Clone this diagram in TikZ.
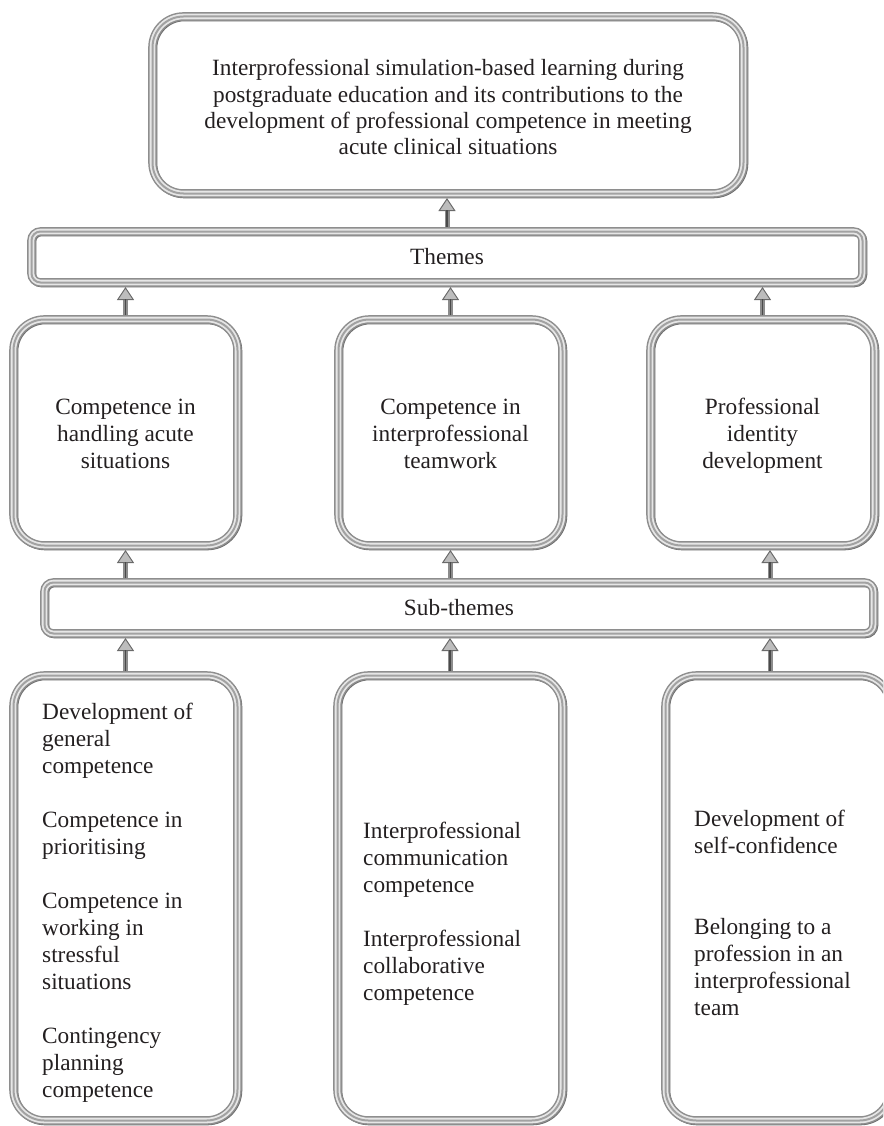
\documentclass[tikz,border=0pt]{standalone}
\usepackage{fontspec}
\setmainfont{Liberation Serif}
\usetikzlibrary{arrows.meta}
\definecolor{bdS}{HTML}{6A6A6A}
\definecolor{bdA}{HTML}{8E8E8E}
\definecolor{bdB}{HTML}{E6E6E6}
\definecolor{bdC}{HTML}{A2A2A2}
\definecolor{txt}{HTML}{231F20}
\definecolor{arA}{HTML}{8C8C8C}
\definecolor{arB}{HTML}{4A4A4A}
\definecolor{arF}{HTML}{BDBDBD}
\definecolor{arD}{HTML}{6A6A6A}
\tikzset{
  bevel/.style={rectangle, rounded corners=#1, inner sep=0pt, outer sep=4.5pt,
    preaction={draw=bdS, line width=8pt, transform canvas={shift={(0.8pt,-0.8pt)}}},
    preaction={draw=bdA, line width=8.6pt},
    preaction={draw=bdB, line width=5.6pt},
    draw=bdC, line width=2pt, text=txt, align=center,
    font=\fontsize{23.3}{27}\selectfont},
  ctxt/.style={inner sep=0pt, align=center, text=txt,
    font=\fontsize{23.3}{27}\selectfont},
  btxt/.style={anchor=north west, inner sep=0pt, align=left, text=txt,
    font=\fontsize{23.3}{27}\selectfont},
  shaft/.style={draw=arA, line width=5pt,
    -{Triangle[width=17pt,length=13pt,line width=1pt,color=arD,fill=arF]}},
  core/.style={draw=arB, line width=1.6pt, shorten >=12pt}
}
\newcommand\upconn[2]{\draw[shaft] #1 -- #2; \draw[core] #1 -- #2;}
\begin{document}
\begin{tikzpicture}[x=1pt,y=-1pt]
\useasboundingbox (0,0) rectangle (883,1126);
\begin{scope}
\clip (0,0) rectangle (883,1126);
% top box
\node[bevel=31pt, minimum width=591pt, minimum height=177pt] (top) at (448,105) {};
\node[ctxt, font=\fontsize{23.3}{26.4}\selectfont] (toptxt) at ([yshift=-5pt]top.center)
  {\strut Interprofessional simulation-based learning during\\
   postgraduate education and its contributions to the\\
   development of professional competence in meeting\\
   acute clinical situations\strut};
% bars
\node[bevel=9pt, minimum width=831pt, minimum height=51pt] (themes) at (447,257) {Themes};
\node[bevel=9pt, minimum width=829pt, minimum height=51pt] (sub) at (459,608) {Sub-themes};
% theme boxes
\node[bevel=31pt, minimum width=224pt, minimum height=226pt] (th1) at (125.5,432.5) {};
\node[bevel=31pt, minimum width=224pt, minimum height=226pt] (th2) at (450.5,432.5) {};
\node[bevel=31pt, minimum width=224pt, minimum height=226pt] (th3) at (762.5,432.5) {};
\node[ctxt] (l1) at ([yshift=-3.5pt]th1.center) {\strut Competence in\\ handling acute\\ situations\strut};
\node[ctxt] (l2) at ([yshift=-3.5pt]th2.center) {\strut Competence in\\ interprofessional\\ teamwork\strut};
\node[ctxt] (l3) at ([yshift=-3.5pt]th3.center) {\strut Professional\\ identity\\ development\strut};
% sub-theme boxes
\node[bevel=31pt, minimum width=224pt, minimum height=445pt] (b1) at (125.5,898) {};
\node[bevel=31pt, minimum width=225pt, minimum height=445pt] (b2) at (450,898) {};
\node[bevel=31pt, minimum width=225pt, minimum height=445pt] (b3) at (778,898) {};
\node[btxt] (t1) at (42,700.1) {\strut Development of\\ general\\ competence\\[27pt]
  Competence in\\ prioritising\\[27pt]
  Competence in\\ working in\\ stressful\\ situations\\[27pt]
  Contingency\\ planning\\ competence};
\node[btxt] (t2) at (363,819.1) {\strut Interprofessional\\ communication\\ competence\\[27pt]
  Interprofessional\\ collaborative\\ competence};
\node[btxt] (t3) at (694,807.1) {\strut Development of\\ self-confidence\\[54pt]
  Belonging to a\\ profession in an\\ interprofessional\\ team};
\coordinate (col3) at (770,0);
% connectors
\upconn{(themes.north)}{(themes.north |- top.south)}
\upconn{(th1.north)}{(themes.south -| th1.north)}
\upconn{(th2.north)}{(themes.south -| th2.north)}
\upconn{(th3.north)}{(themes.south -| th3.north)}
\upconn{(sub.north -| th1.south)}{(th1.south)}
\upconn{(sub.north -| th2.south)}{(th2.south)}
\upconn{(sub.north -| col3)}{(th3.south -| col3)}
\upconn{(b1.north)}{(sub.south -| b1.north)}
\upconn{(b2.north)}{(sub.south -| b2.north)}
\upconn{(b3.north -| col3)}{(sub.south -| col3)}
\end{scope}
\end{tikzpicture}
\end{document}
